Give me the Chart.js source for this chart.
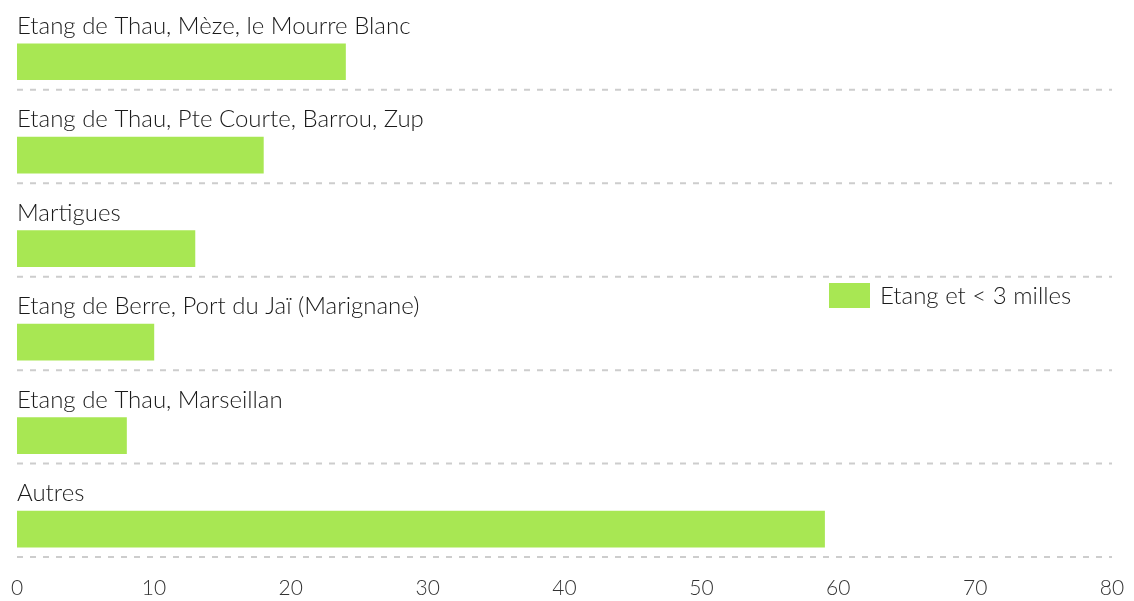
<!DOCTYPE html>
<html><head><meta charset="utf-8">
<script src="https://cdn.jsdelivr.net/npm/chart.js@4"></script>
<style>html,body{margin:0;padding:0;background:#fff}#wrap{width:1134px;height:601px}</style>
</head><body><div id="wrap"><canvas id="c" width="1134" height="601"></canvas></div>
<script>
const categories = [
  "Etang de Thau, Mèze, le Mourre Blanc",
  "Etang de Thau, Pte Courte, Barrou, Zup",
  "Martigues",
  "Etang de Berre, Port du Jaï (Marignane)",
  "Etang de Thau, Marseillan",
  "Autres"
];
const seriesLabel = "Etang et < 3 milles";
const values = [24, 18, 13, 10, 8, 59];
const xTicks = [0, 10, 20, 30, 40, 50, 60, 70, 80];

const FONT = "'Source Sans Pro', 'Lato', 'Noto Sans', sans-serif";
const GREEN = "#a8e753";

const overlay = {
  id: 'overlay',
  afterDatasetsDraw(chart) {
    const ctx = chart.ctx;
    const meta = chart.getDatasetMeta(0);
    const x0 = chart.scales.x.getPixelForValue(0);
    const x1 = chart.scales.x.getPixelForValue(80);
    ctx.save();
    meta.data.forEach((bar, i) => {
      const top = bar.y - bar.height / 2;
      const bottom = bar.y + bar.height / 2;
      ctx.fillStyle = '#1a1a1a';
      ctx.font = "300 24px " + FONT;
      ctx.textAlign = 'left';
      ctx.textBaseline = 'alphabetic';
      ctx.fillText(chart.data.labels[i], x0, top - 10);
      ctx.strokeStyle = '#cdcdcd';
      ctx.lineWidth = 2;
      ctx.setLineDash([6, 7]);
      ctx.beginPath();
      ctx.moveTo(x0, bottom + 10);
      ctx.lineTo(x1, bottom + 10);
      ctx.stroke();
    });
    ctx.setLineDash([]);
    // legend
    const ds = chart.data.datasets[0];
    ctx.fillStyle = ds.backgroundColor;
    ctx.fillRect(829, 283, 41, 25);
    ctx.fillStyle = '#1a1a1a';
    ctx.font = "300 24px " + FONT;
    ctx.textBaseline = 'middle';
    ctx.fillText(ds.label, 880, 296);
    ctx.restore();
  }
};

new Chart(document.getElementById('c'), {
  type: 'bar',
  data: {
    labels: categories,
    datasets: [{ label: seriesLabel, data: values, backgroundColor: GREEN, barThickness: 36, borderWidth: 0 }]
  },
  options: {
    indexAxis: 'y',
    responsive: false,
    animation: false,
    layout: { padding: { top: 15, left: 17, right: 22, bottom: 0 } },
    plugins: { legend: { display: false }, tooltip: { enabled: false } },
    scales: {
      x: {
        min: 0, max: 80,
        afterBuildTicks(axis) { axis.ticks = xTicks.map(v => ({ value: v })); },
        grid: { display: false, drawTicks: false },
        border: { display: false },
        ticks: { color: '#333', font: { family: FONT, size: 21, weight: 300 }, padding: 0 }
      },
      y: {
        display: false,
        grid: { display: false }
      }
    }
  },
  plugins: [overlay]
});
</script></body></html>
